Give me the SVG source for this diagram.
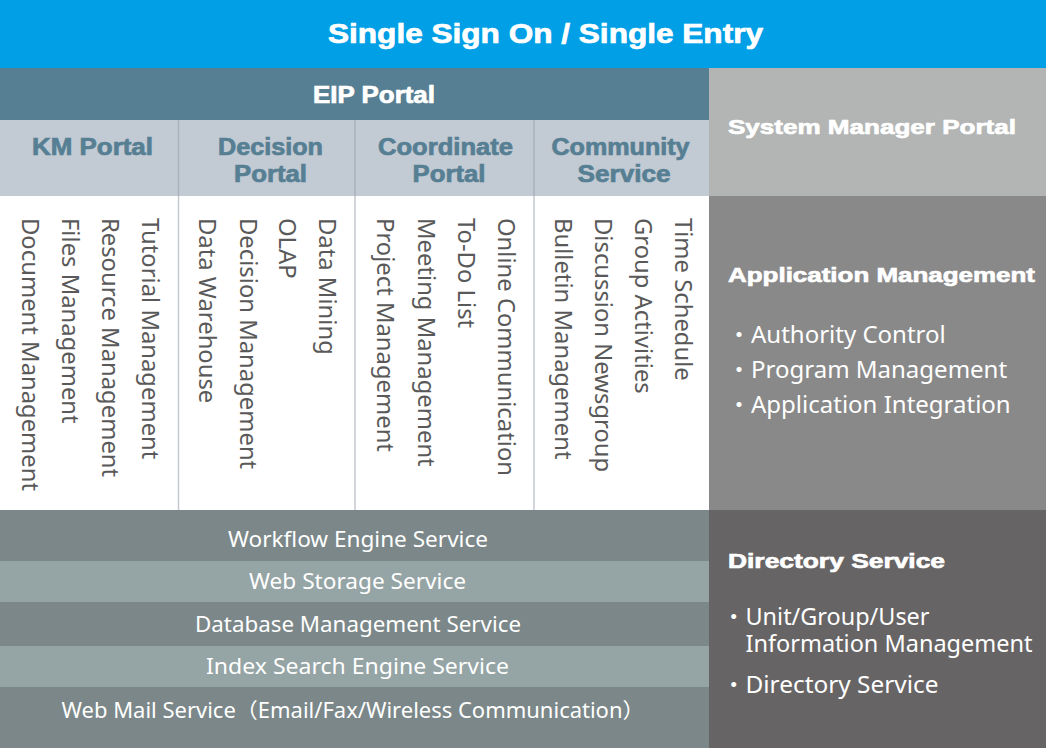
<svg xmlns="http://www.w3.org/2000/svg" width="1046" height="748" viewBox="0 0 1046 748">
<style>
.hb{font-family:"Liberation Sans",Arial,sans-serif;font-weight:bold;fill:#ffffff;stroke:#ffffff;stroke-width:0.7}
.sh{font-family:"Liberation Sans",Arial,sans-serif;font-weight:bold;fill:#567f93;stroke:#567f93;stroke-width:0.7;font-size:23px}
.vt{font-family:"Noto Sans","Noto Sans CJK JP",sans-serif;font-size:23.8px;fill:#595959}
.bl{font-family:"Noto Sans","Noto Sans CJK JP",sans-serif;font-size:24px;fill:#ffffff}
.bd{font-family:"Noto Sans","Noto Sans CJK JP",sans-serif;font-size:23.4px;fill:#ffffff}
.sv{font-family:"Noto Sans","Noto Sans CJK JP",sans-serif;font-size:21px;fill:#ffffff}
.dk{fill:#7b8788}
.lt{fill:#95a4a5}
.dv{stroke:#c3c9cf;stroke-width:1.5}
.dh{stroke:#aab3bc;stroke-width:1.5}
</style>

<g id="sso">
<rect x="0" y="0" width="1046" height="68" fill="#009fe6"/>
<text class="hb" x="328" y="43" font-size="28" textLength="435" lengthAdjust="spacingAndGlyphs">Single Sign On / Single Entry</text>
</g>

<g id="eip-portal">
<rect x="0" y="68" width="709" height="52" fill="#577f93"/>
<text class="hb" x="313" y="102.5" font-size="23" textLength="122" lengthAdjust="spacingAndGlyphs">EIP Portal</text>
<rect x="0" y="120" width="709" height="76" fill="#c2cad3"/>
<rect x="0" y="196" width="709" height="314" fill="#ffffff"/>
</g>

<g id="dividers">
<line class="dh" x1="178.5" y1="120" x2="178.5" y2="196"/>
<line class="dh" x1="355" y1="120" x2="355" y2="196"/>
<line class="dh" x1="534" y1="120" x2="534" y2="196"/>
<line class="dv" x1="178.5" y1="196" x2="178.5" y2="510"/>
<line class="dv" x1="355" y1="196" x2="355" y2="510"/>
<line class="dv" x1="534" y1="196" x2="534" y2="510"/>
</g>

<g id="km-portal">
<text class="sh" x="32" y="155" textLength="121" lengthAdjust="spacingAndGlyphs">KM Portal</text>
<text class="vt" transform="translate(22,218) rotate(90)">Document Management</text>
<text class="vt" transform="translate(62,218) rotate(90)">Files Management</text>
<text class="vt" transform="translate(102,218) rotate(90)">Resource Management</text>
<text class="vt" transform="translate(142,218) rotate(90)">Tutorial Management</text>
</g>

<g id="decision-portal">
<text class="sh" x="218" y="155" textLength="105" lengthAdjust="spacingAndGlyphs">Decision</text>
<text class="sh" x="234" y="181.7" textLength="73" lengthAdjust="spacingAndGlyphs">Portal</text>
<text class="vt" transform="translate(199,218) rotate(90)">Data Warehouse</text>
<text class="vt" transform="translate(239.5,218) rotate(90)">Decision Management</text>
<text class="vt" transform="translate(279,218) rotate(90)">OLAP</text>
<text class="vt" transform="translate(319,218) rotate(90)">Data Mining</text>
</g>

<g id="coordinate-portal">
<text class="sh" x="378" y="155" textLength="135" lengthAdjust="spacingAndGlyphs">Coordinate</text>
<text class="sh" x="412.5" y="181.7" textLength="73" lengthAdjust="spacingAndGlyphs">Portal</text>
<text class="vt" transform="translate(377,218) rotate(90)">Project Management</text>
<text class="vt" transform="translate(417.5,218) rotate(90)">Meeting Management</text>
<text class="vt" transform="translate(457.5,218) rotate(90)">To-Do List</text>
<text class="vt" transform="translate(497.5,218) rotate(90)">Online Communication</text>
</g>

<g id="community-service">
<text class="sh" x="551.5" y="155" textLength="138" lengthAdjust="spacingAndGlyphs">Community</text>
<text class="sh" x="577.5" y="181.7" textLength="93" lengthAdjust="spacingAndGlyphs">Service</text>
<text class="vt" transform="translate(555,218) rotate(90)">Bulletin Management</text>
<text class="vt" transform="translate(595,218) rotate(90)">Discussion Newsgroup</text>
<text class="vt" transform="translate(635,218) rotate(90)">Group Activities</text>
<text class="vt" transform="translate(675,218) rotate(90)">Time Schedule</text>
</g>

<g id="system-manager-portal">
<rect x="709" y="68" width="337" height="128" fill="#b3b5b4"/>
<text class="hb" x="728" y="134" font-size="21" textLength="288" lengthAdjust="spacingAndGlyphs">System Manager Portal</text>
</g>

<g id="application-management">
<rect x="709" y="196" width="337" height="314" fill="#898989"/>
<text class="hb" x="728" y="281.5" font-size="21" textLength="307" lengthAdjust="spacingAndGlyphs">Application Management</text>
<text class="bl" x="727" y="343.3">・Authority Control</text>
<text class="bl" x="727" y="378.3">・Program Management</text>
<text class="bl" x="727" y="413.3">・Application Integration</text>
</g>

<g id="directory-service">
<rect x="709" y="510" width="337" height="238" fill="#676465"/>
<text class="hb" x="728" y="568" font-size="21" textLength="217" lengthAdjust="spacingAndGlyphs">Directory Service</text>
<text class="bd" x="722" y="625">・<tspan x="745.5" textLength="184" lengthAdjust="spacingAndGlyphs">Unit/Group/User</tspan></text>
<text class="bd" x="745.5" y="651.7" textLength="287" lengthAdjust="spacingAndGlyphs">Information Management</text>
<text class="bd" x="722" y="692.7">・<tspan x="745.5" textLength="193" lengthAdjust="spacingAndGlyphs">Directory Service</tspan></text>
</g>

<g id="services">
<rect class="dk" x="0" y="510" width="709" height="51"/>
<rect class="lt" x="0" y="561" width="709" height="41"/>
<rect class="dk" x="0" y="602" width="709" height="44"/>
<rect class="lt" x="0" y="646" width="709" height="41"/>
<rect class="dk" x="0" y="687" width="709" height="61"/>
<text class="sv" x="228" y="546.5" textLength="260" lengthAdjust="spacingAndGlyphs">Workflow Engine Service</text>
<text class="sv" x="249" y="589.3" textLength="217" lengthAdjust="spacingAndGlyphs">Web Storage Service</text>
<text class="sv" x="195" y="631.7" textLength="326" lengthAdjust="spacingAndGlyphs">Database Management Service</text>
<text class="sv" x="206" y="674.3" textLength="303" lengthAdjust="spacingAndGlyphs">Index Search Engine Service</text>
<text class="sv" x="61.5" y="718.3" textLength="583" lengthAdjust="spacingAndGlyphs">Web Mail Service（Email/Fax/Wireless Communication）</text>
</g>
</svg>
